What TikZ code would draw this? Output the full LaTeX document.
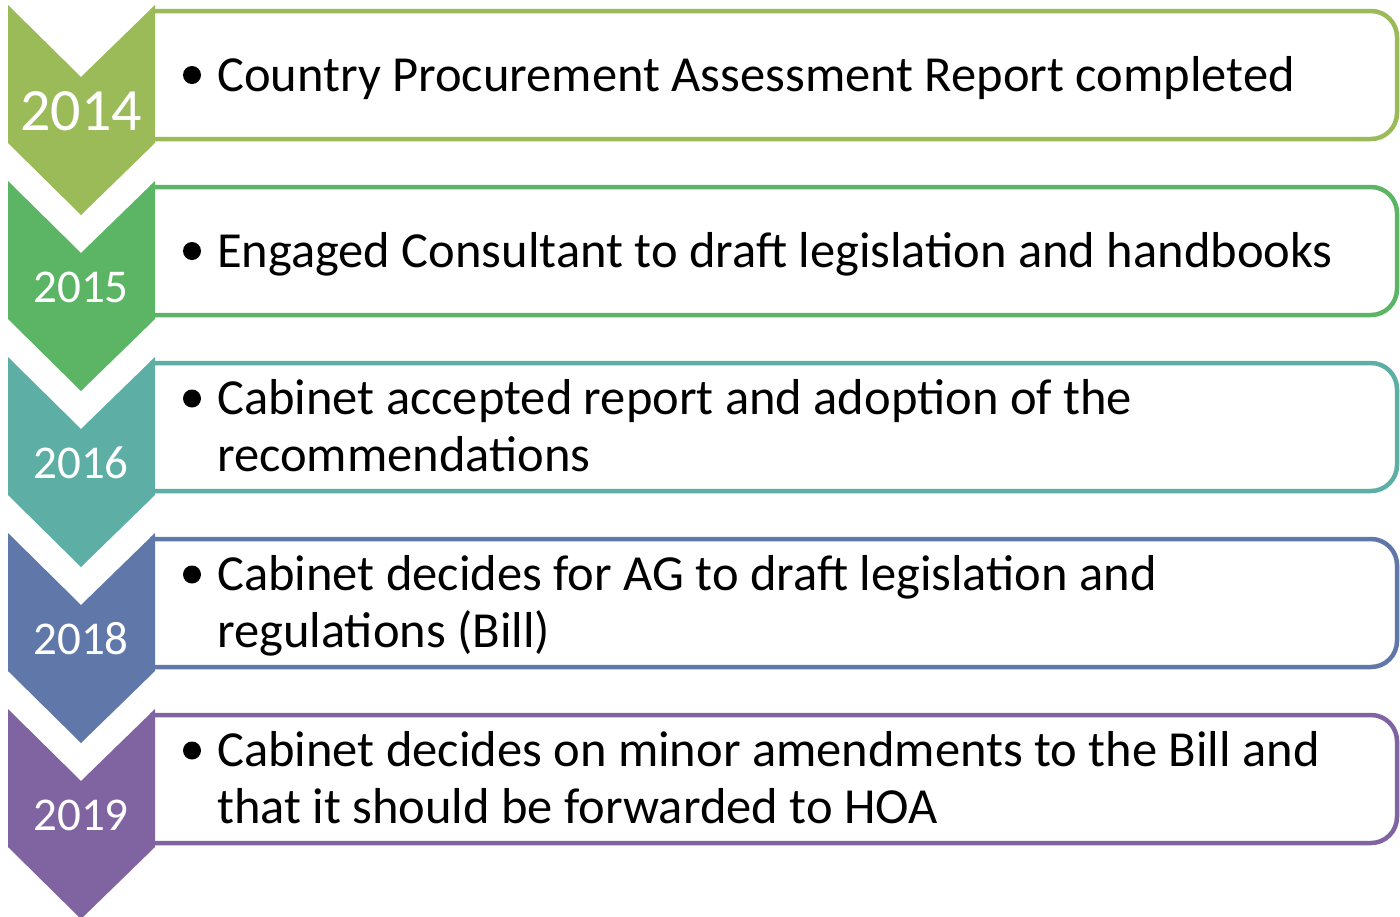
\documentclass[tikz,border=0pt]{standalone}
\usepackage{fontspec}
\setmainfont{Carlito}
\definecolor{c1}{HTML}{9BBB59}
\definecolor{c2}{HTML}{5BB565}
\definecolor{c3}{HTML}{5DAFA6}
\definecolor{c4}{HTML}{5F77A9}
\definecolor{c5}{HTML}{8064A2}
\begin{document}
\begin{tikzpicture}[x=1pt,y=-1pt,
  box/.style={line width=4.5pt, rounded corners=26pt},
  yeartext/.style={text=white, inner sep=0pt},
  itemtext/.style={anchor=base west, align=left, font=\fontsize{50.5}{57}\selectfont, inner sep=0pt},
  bul/.style={circle, fill=black, inner sep=0pt, minimum size=18pt}]
\useasboundingbox (0,0) rectangle (1400,916);
\foreach \i/\c/\yr/\ys/\n/\txt in {
  0/c1/2014/60/1/{Country Procurement Assessment Report completed},
  1/c2/2015/47/1/{Engaged Consultant to draft legislation and handbooks},
  2/c3/2016/47/2/{Cabinet accepted report and adoption of the\\recommendations},
  3/c4/2018/47/2/{Cabinet decides for AG to draft legislation and\\regulations (Bill)},
  4/c5/2019/47/2/{Cabinet decides on minor amendments to the Bill and\\that it should be forwarded to HOA}}
{
  \pgfmathsetmacro{\t}{5+176*\i}
  \pgfmathsetmacro{\b}{\t+86-28.5*(\n-1)}
  \pgfmathsetmacro{\bl}{\t+86+28.5*(\n-1)}
  \draw[box, draw=\c, fill=white] (150,\t+6) -- (1397,\t+6) -- (1397,\t+134) -- (150,\t+134);
  \fill[\c] (8,\t) -- (81,\t+72) -- (155,\t) -- (155,\t+138) -- (81,\t+210) -- (8,\t+138) -- cycle;
  \node[yeartext, font=\fontsize{\ys}{\ys}\selectfont] (year\i) at (81,\t+106) {\yr};
  \node[itemtext] (item\i) at (217,\bl) {\txt};
  \node[bul] (bul\i) at (192,\b-16) {};
}
\end{tikzpicture}
\end{document}
